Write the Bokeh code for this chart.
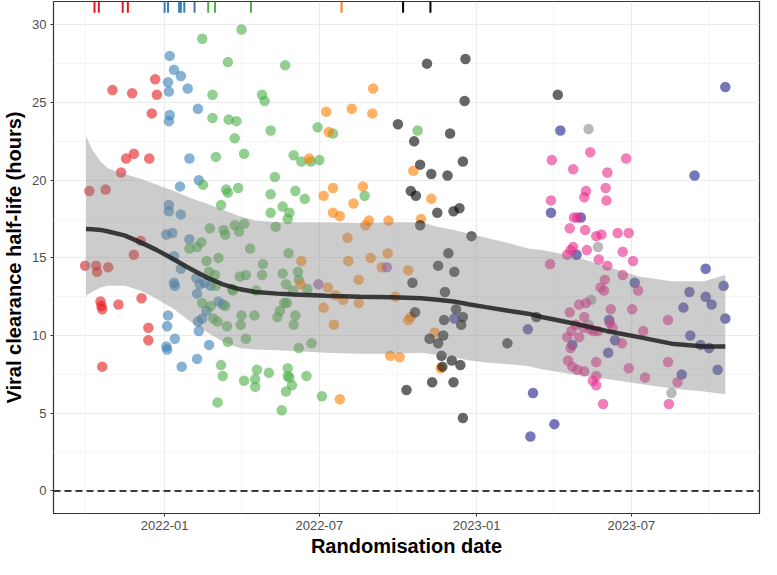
import pandas as pd
from bokeh.plotting import figure
from bokeh.models import Range1d, FixedTicker, DatetimeTickFormatter, Span
from bokeh.embed import file_html
from bokeh.resources import INLINE

START = pd.Timestamp("2022-01-01")


def to_dates(days):
    return START + pd.to_timedelta(days, unit="D")


# ---- data: days since 2022-01-01 and viral clearance half-life (hours) ----
red_days = [-11, -61, -38, -9, -15, -36, -45, -18, -51, -88, -69, -28, -36, -93, -80, -79, -66,
            -75, -74, -73, -54, -27, -19, -19, -73]
red_vals = [26.5, 25.8, 25.6, 25.5, 24.3, 21.7, 21.4, 21.4, 20.5, 19.3, 19.4, 16.1, 15.2, 14.5, 14.5, 14.1, 14.4,
            12.2, 11.9, 11.7, 12.0, 12.4, 10.5, 9.7, 8.0]

blue_days = [6, 11, 19, 4, 5, 27, 39, 6, 5, 29, 40, 18, 5, 5, 19, 2, 9, 29, 11, 19, 11, 12, 37, 41, 47, 54,
             38, 63, 68, 49, 39, 44, 40, 4, 3, 12, 2, 3, 52, 38, 20]
blue_vals = [28.0, 27.1, 26.7, 26.3, 25.7, 25.9, 24.6, 24.2, 23.8, 21.4, 20.0, 19.6, 18.4, 18.0, 17.8, 16.5,
             16.6, 16.2, 15.1, 14.3, 13.4, 13.2, 13.7, 13.3, 13.4, 13.2, 12.7, 12.2, 12.0, 11.6, 10.9, 11.1,
             10.3, 11.3, 10.6, 9.8, 9.3, 9.1, 9.4, 8.5, 8.0]

green_days = [90, 44, 74, 141, 56, 114, 117, 56, 75, 84, 124, 179, 197, 82, 60, 93, 151, 160, 171, 181, 129,
              45, 72, 74, 86, 124, 153, 164, 234, 66, 138, 146, 144, 124, 53, 82, 93, 69, 71, 87, 130, 43, 38,
              29, 100, 145, 49, 63, 115, 114, 156, 52, 59, 88, 95, 138, 142, 157, 167, 150, 80, 107, 60, 79,
              44, 54, 71, 105, 90, 89, 140, 143, 135, 132, 153, 151, 57, 62, 73, 74, 95, 157, 172, 66, 68,
              108, 122, 106, 106, 93, 144, 144, 146, 149, 142, 166, 184, 62, 137, 296]
green_vals = [29.7, 29.1, 27.6, 27.4, 25.5, 25.5, 25.1, 24.0, 23.9, 23.8, 23.2, 23.4, 23.0, 22.7, 21.5, 21.7,
              21.6, 21.2, 21.2, 21.3, 20.2, 19.7, 19.4, 19.2, 19.5, 19.1, 19.3, 18.8, 19.0, 18.4, 18.3, 17.9,
              17.5, 17.9, 16.9, 17.1, 17.2, 16.8, 16.5, 16.7, 17.0, 16.0, 15.7, 15.6, 15.6, 15.3, 14.8, 15.0,
              14.6, 13.9, 14.1, 14.1, 13.9, 13.8, 13.9, 14.0, 13.3, 13.6, 13.0, 12.9, 12.9, 12.9, 13.2, 13.0,
              12.1, 11.9, 11.9, 11.3, 11.3, 10.7, 12.1, 12.1, 11.6, 11.2, 11.3, 10.7, 11.1, 10.9, 10.6, 9.6,
              9.8, 9.2, 9.5, 8.1, 7.4, 7.8, 7.6, 7.2, 6.7, 7.1, 7.9, 7.4, 7.3, 6.8, 6.4, 7.4, 6.1, 5.7, 5.2,
              23.2]

orange_days = [244, 189, 219, 243, 192, 169, 197, 232, 186, 221, 291, 312, 262, 300, 197, 205, 239, 235, 214,
               261, 254, 285, 270, 288, 285, 316, 264, 275, 323, 160, 215, 241, 159, 227, 191, 200, 209, 227,
               186, 198, 205]
orange_vals = [25.9, 24.4, 24.6, 24.3, 23.1, 21.4, 19.5, 19.6, 19.0, 18.5, 20.6, 18.8, 17.4, 17.5, 17.9, 17.7,
               17.4, 17.1, 16.3, 15.3, 14.4, 14.2, 12.5, 11.2, 11.0, 10.2, 8.7, 8.6, 7.9, 14.8, 14.8, 15.0,
               13.3, 13.6, 13.1, 12.6, 12.3, 12.1, 11.8, 10.7, 5.9]

purple_days = [180, 260]
purple_vals = [13.3, 14.4]

black_days = [307, 352, 351, 273, 334, 292, 299, 349, 312, 331, 288, 294, 345, 319, 338, 299, 359, 332, 320,
              339, 290, 328, 293, 341, 349, 347, 327, 326, 310, 320, 401, 324, 336, 346, 325, 313, 338, 283,
              349, 460, 435]
black_vals = [27.5, 27.8, 25.1, 23.6, 23.0, 22.5, 21.0, 21.2, 20.4, 20.3, 19.3, 19.0, 18.2, 17.9, 18.0, 17.1,
              16.4, 15.3, 14.5, 14.1, 13.4, 12.8, 11.5, 11.7, 11.2, 10.7, 11.0, 10.0, 9.8, 9.5, 9.5, 8.7, 8.4,
              8.1, 8.0, 7.0, 7.0, 6.5, 4.7, 25.5, 11.2]

indigo_days = [339, 425, 656, 463, 620, 452, 487, 482, 550, 614, 633, 640, 654, 633, 607, 520, 656, 477, 527,
               615, 627, 637, 519, 605, 647, 431, 456, 428]
indigo_vals = [11.1, 10.4, 26.0, 23.2, 20.3, 17.9, 17.6, 15.2, 13.4, 12.8, 12.5, 12.0, 13.2, 14.3, 11.8, 11.0,
               11.1, 9.4, 9.7, 10.0, 9.4, 9.2, 8.9, 7.5, 7.8, 6.3, 4.3, 3.5]

gray_days = [496, 507, 499, 496, 593]
gray_vals = [23.3, 15.7, 12.3, 10.7, 6.3]

pink_days = [498, 453, 540, 478, 518, 493, 491, 516, 452, 517, 479, 483, 474, 492, 505, 511, 530, 543, 478,
             475, 471, 494, 536, 451, 508, 518, 548, 536, 515, 510, 514, 554, 485, 493, 474, 522, 547, 491,
             589, 481, 490, 521, 524, 498, 507, 502, 476, 560, 471, 485, 475, 535, 472, 477, 483, 491, 505,
             543, 589, 501, 505, 505, 562, 600, 513, 590]
pink_vals = [21.8, 21.3, 21.4, 20.7, 20.5, 19.3, 18.9, 19.5, 18.7, 18.7, 17.6, 17.6, 16.9, 16.8, 16.4, 16.5,
             16.6, 16.6, 15.7, 15.5, 15.2, 15.5, 15.4, 14.6, 14.9, 14.5, 14.8, 13.9, 13.6, 13.1, 12.9, 12.9,
             12.0, 12.1, 11.5, 11.7, 11.7, 11.2, 11.0, 10.7, 10.5, 10.8, 10.5, 10.4, 10.3, 10.3, 10.3, 10.3,
             9.9, 9.9, 9.2, 9.5, 8.4, 8.0, 7.8, 7.7, 8.3, 7.9, 8.3, 7.1, 7.4, 6.8, 7.3, 7.0, 5.6, 5.6]

# smooth fit with confidence band
fit_days = [-92, -85, -75, -66, -47, -28, -9, 11, 30, 49, 68, 87, 106, 132, 151, 189, 228, 266, 300, 319,
            338, 357, 376, 402, 425, 441, 479, 517, 555, 593, 631, 656]
fit_upper = [22.85, 22.0, 21.2, 20.75, 20.4, 20.1, 19.7, 19.3, 18.86, 18.5, 18.1, 17.7, 17.4, 17.3, 17.3,
             17.3, 17.24, 17.3, 17.3, 17.0, 16.8, 16.55, 16.3, 15.96, 15.6, 15.5, 15.1, 14.45, 13.8, 13.5,
             13.5, 13.9]
fit_lower = [12.56, 12.8, 13.1, 13.2, 13.2, 12.9, 12.35, 11.7, 10.9, 10.25, 9.6, 9.2, 9.1, 9.05, 9.0, 8.9,
             8.83, 8.83, 8.9, 8.75, 8.6, 8.4, 8.26, 8.15, 8.05, 7.84, 7.5, 7.2, 6.9, 6.6, 6.4, 6.22]
fit_vals = [16.86, 16.85, 16.8, 16.7, 16.45, 16.0, 15.5, 14.9, 14.3, 13.75, 13.3, 13.0, 12.8, 12.7, 12.65,
            12.56, 12.5, 12.46, 12.4, 12.3, 12.2, 12.0, 11.83, 11.6, 11.41, 11.2, 10.78, 10.3, 9.9, 9.48,
            9.3, 9.3]

# rug marks at top
rug_days = [-82, -77, -49, -43, 0, 4, 17, 19, 23, 35, 51, 59, 101, 207, 279, 311]
rug_colors = ["#E41A1C"] * 4 + ["#377EB8"] * 6 + ["#4DAF4A"] * 3 + ["#FF7F00"] + ["#000000"] * 2

groups = [
    (red_days, red_vals, "#E41A1C"),
    (blue_days, blue_vals, "#377EB8"),
    (green_days, green_vals, "#4DAF4A"),
    (orange_days, orange_vals, "#FF7F00"),
    (purple_days, purple_vals, "#984EA3"),
    (black_days, black_vals, "#000000"),
    (indigo_days, indigo_vals, "#1A1A8C"),
    (gray_days, gray_vals, "#8C8C8C"),
    (pink_days, pink_vals, "#E7298A"),
]

x_start = to_dates([-130])[0]
x_end = to_dates([696])[0]

p = figure(width=761, height=559, x_axis_type="datetime", output_backend="svg", toolbar_location=None,
           x_range=Range1d(x_start, x_end), y_range=Range1d(-1.45, 31.5),
           min_border_left=0, min_border_right=2, min_border_top=1, min_border_bottom=0)

for d, v, c in groups:
    p.scatter(to_dates(d), v, size=10.5, fill_color=c, fill_alpha=0.6, line_color=None)

fd = to_dates(fit_days)
p.varea(x=fd, y1=fit_lower, y2=fit_upper, fill_color="#7F7F7F", fill_alpha=0.4)
p.line(fd, fit_vals, line_color="#1E1E1E", line_alpha=0.85, line_width=4.5)

p.add_layout(Span(location=0, dimension="width", line_color="black", line_width=1.6, line_dash="7 4"))

rd = to_dates(rug_days)
p.segment(x0=rd, y0=[31.5] * len(rug_days), x1=rd, y1=[30.78] * len(rug_days),
          line_color=rug_colors, line_width=2)

ms = lambda s: pd.Timestamp(s).value // 10**6
p.xaxis.ticker = FixedTicker(ticks=[ms("2022-01-01"), ms("2022-07-01"), ms("2023-01-01"), ms("2023-07-01")],
                             minor_ticks=[ms("2021-10-01"), ms("2022-04-01"), ms("2022-10-01"),
                                          ms("2023-04-01"), ms("2023-10-01")])
p.xaxis.formatter = DatetimeTickFormatter(days="%Y-%m", months="%Y-%m", years="%Y-%m")
p.yaxis.ticker = FixedTicker(ticks=[0, 5, 10, 15, 20, 25, 30],
                             minor_ticks=[2.5, 7.5, 12.5, 17.5, 22.5, 27.5])

for ax in (p.xaxis, p.yaxis):
    ax.axis_line_color = None
    ax.major_tick_line_color = "#333333"
    ax.major_tick_in = 0
    ax.major_tick_out = 3
    ax.minor_tick_line_color = None
    ax.major_label_text_font = "Liberation Sans"
    ax.major_label_text_font_size = "13px"
    ax.major_label_text_color = "#4D4D4D"
    ax.axis_label_text_font = "Liberation Sans"
    ax.axis_label_text_font_size = "20px"
    ax.axis_label_text_font_style = "bold"
    ax.axis_label_text_color = "black"

p.xaxis.axis_label = "Randomisation date"
p.yaxis.axis_label = "Viral clearance half-life (hours)"
p.xaxis.major_label_standoff = 3
p.yaxis.major_label_standoff = 3
p.xaxis.axis_label_standoff = 2
p.yaxis.axis_label_standoff = 4

p.grid.grid_line_color = "#EBEBEB"
p.grid.grid_line_width = 1.2
p.grid.minor_grid_line_color = "#F2F2F2"
p.grid.minor_grid_line_width = 0.8
p.outline_line_color = "#333333"
p.outline_line_width = 1.2
p.background_fill_color = "white"
p.border_fill_color = "white"

open("out.html", "w").write(file_html(p, INLINE))
